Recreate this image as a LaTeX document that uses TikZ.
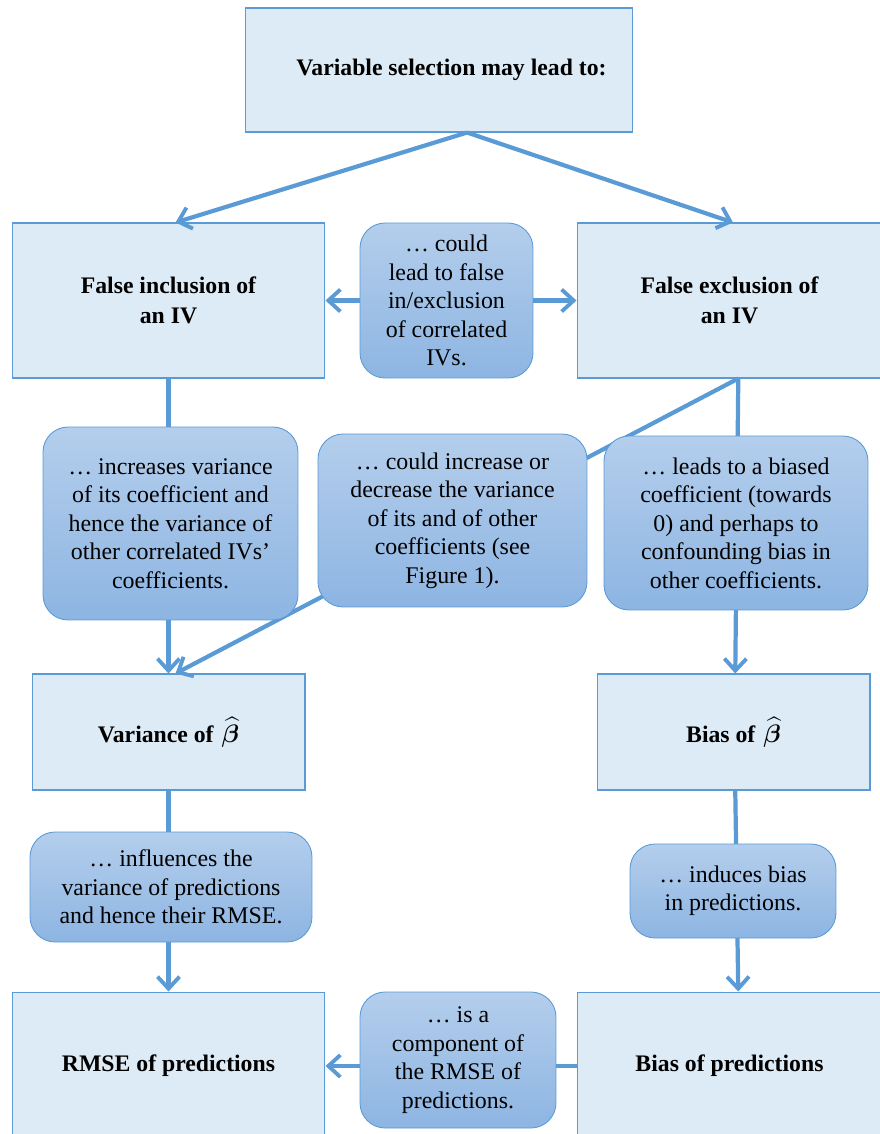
\documentclass[tikz,border=0pt]{standalone}
\usepackage{fontspec}
\setmainfont{Liberation Serif}
\usepackage{amsmath}
\usepackage{bm}
\usetikzlibrary{arrows.meta}

\definecolor{linkblue}{HTML}{5B9BD5}
\definecolor{boxfill}{HTML}{DDEBF7}
\definecolor{bubtop}{HTML}{B4CEEC}
\definecolor{bubbot}{HTML}{8DB5E2}

\tikzset{
  flowbox/.style={draw=linkblue, line width=0.6pt, fill=boxfill, align=center, inner sep=0pt,
    font=\fontsize{13.5}{17}\selectfont\bfseries},
  bubble/.style={draw=linkblue, line width=0.5pt, rounded corners=0.5cm, top color=bubtop,
    bottom color=bubbot, align=center, inner sep=0pt, font=\fontsize{13.6}{16.2}\selectfont},
  link/.style={draw=linkblue, line width=2.4pt, -{Straight Barb[length=2.4mm,width=4.4mm,line width=2.2pt]}}
}

\begin{document}
\begin{tikzpicture}[x=0.02cm, y=-0.02cm]
\useasboundingbox (0,0) rectangle (880,1134);
% plain boxes
\node[flowbox, minimum width=7.76cm, minimum height=2.48cm] (top) at (439,70) {\hspace*{0.5cm}Variable selection may lead to:};
\node[flowbox, minimum width=6.26cm, minimum height=3.1cm] (incl) at (168.5,300.5) {False inclusion of\\an IV};
\node[flowbox, minimum width=6.1cm, minimum height=3.1cm] (excl) at (729.5,300.5) {False exclusion of\\an IV};
\node[flowbox, minimum width=5.46cm, minimum height=2.32cm] (varb) at (168.5,732) {Variance of\,\,$\widehat{\bm{\beta}}$};
\node[flowbox, minimum width=5.46cm, minimum height=2.32cm] (biasb) at (733.5,732) {Bias of\,\,$\widehat{\bm{\beta}}$};
\node[flowbox, minimum width=6.26cm, minimum height=2.96cm] (rmse) at (168.5,1066) {RMSE of predictions};
\node[flowbox, minimum width=6.1cm, minimum height=2.96cm] (biasp) at (729.5,1066) {Bias of predictions};

% connectors (the bubbles sit on top of them)
\draw[link] ([xshift=16]top.south) -- ([xshift=4]incl.north);
\draw[link] ([xshift=16]top.south) -- ([xshift=2]excl.north);
\draw[link] (incl.south) -- (varb.north);
\draw[link] ([xshift=5]excl.south) -- ([xshift=4]varb.north);
\draw[link] ([xshift=5]excl.south) -- ([xshift=1]biasb.north);
\draw[link] (varb.south) -- (rmse.north);
\draw[link] ([xshift=1]biasb.south) -- ([xshift=5]biasp.north);
\draw[link] (biasp.west) -- (rmse.east);

% bubbles
\node[bubble, minimum width=3.46cm, minimum height=3.1cm] (mid) at (446.5,300.5) {… could\\lead to false\\in/exclusion\\of correlated\\IVs.};
\node[bubble, minimum width=5.1cm, minimum height=3.86cm] (incvar) at (170.5,523.5) {… increases variance\\of its coefficient and\\hence the variance of\\other correlated IVs’\\coefficients.};
\node[bubble, minimum width=5.38cm, minimum height=3.46cm] (couldinc) at (452.5,520.5) {… could increase or\\decrease the variance\\of its and of other\\coefficients (see\\Figure 1).};
\node[bubble, minimum width=5.28cm, minimum height=3.48cm] (leads) at (736,523) {… leads to a biased\\coefficient (towards\\0) and perhaps to\\confounding bias in\\other coefficients.};
\node[bubble, minimum width=5.64cm, minimum height=2.2cm] (influ) at (171,887) {… influences the\\variance of predictions\\and hence their RMSE.};
\node[bubble, minimum width=4.12cm, minimum height=1.88cm] (induce) at (733,891) {… induces bias\\in predictions.};
\node[bubble, minimum width=3.92cm, minimum height=2.72cm] (comp) at (458,1060) {… is a\\component of\\the RMSE of\\predictions.};

\draw[link] (mid.west) -- (incl.east);
\draw[link] (mid.east) -- (excl.west);
\end{tikzpicture}
\end{document}
